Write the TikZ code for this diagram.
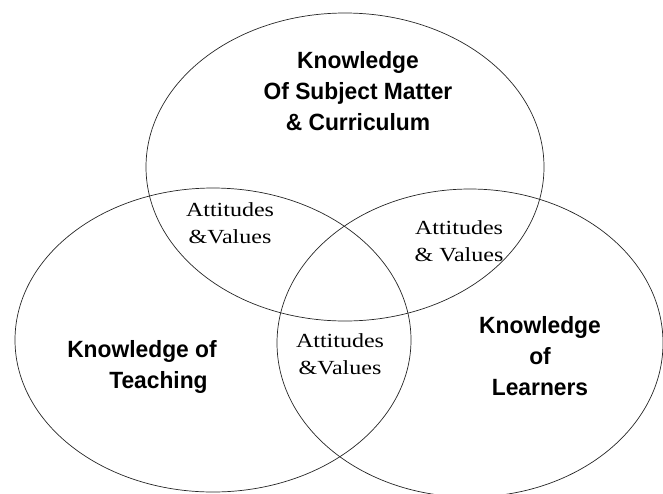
\documentclass[tikz,border=0pt]{standalone}
\usepackage{fontspec}
\usetikzlibrary{positioning}
\newfontfamily\knowfont[FakeStretch=0.97]{Liberation Sans}
\newfontfamily\attfont[FakeStretch=1.2]{Liberation Serif}
\tikzset{
  setline/.style={line width=0.7pt, draw=black!85},
  knowbox/.style={align=center, inner sep=0pt,
    font=\knowfont\bfseries\fontsize{23.5}{31}\selectfont},
  attbox/.style={align=center, inner sep=0pt,
    font=\attfont\fontsize{20}{27}\selectfont}
}
\begin{document}
\begin{tikzpicture}[x=1pt,y=-1pt]
  \useasboundingbox (0,0) rectangle (663,493);
  \coordinate (TopC) at (345,167);
  \coordinate (LeftC) at (213,340);
  \coordinate (RightC) at (470,343);
  \draw[setline] (TopC) ellipse [x radius=199, y radius=154];
  \draw[setline] (LeftC) ellipse [x radius=198, y radius=152];
  \draw[setline] (RightC) ellipse [x radius=193, y radius=154];

  \node[knowbox] (Subject) at (358,91)
  {Knowledge\\Of Subject Matter\\\& Curriculum};
  \node[knowbox, align=left] (Teaching) at (142,367)
  {Knowledge of\\\hspace*{42pt}Teaching};
  \node[knowbox] (Learners) at (540,356) {Knowledge\\of\\Learners};

  \node[attbox] (AVleft) at (230,223) {Attitudes\\\&Values};
  \node[attbox] (AVright) at (459,241) {Attitudes\\\& Values};
  \node[attbox] (AVmid) at (340,354) {Attitudes\\\&Values};
\end{tikzpicture}
\end{document}
